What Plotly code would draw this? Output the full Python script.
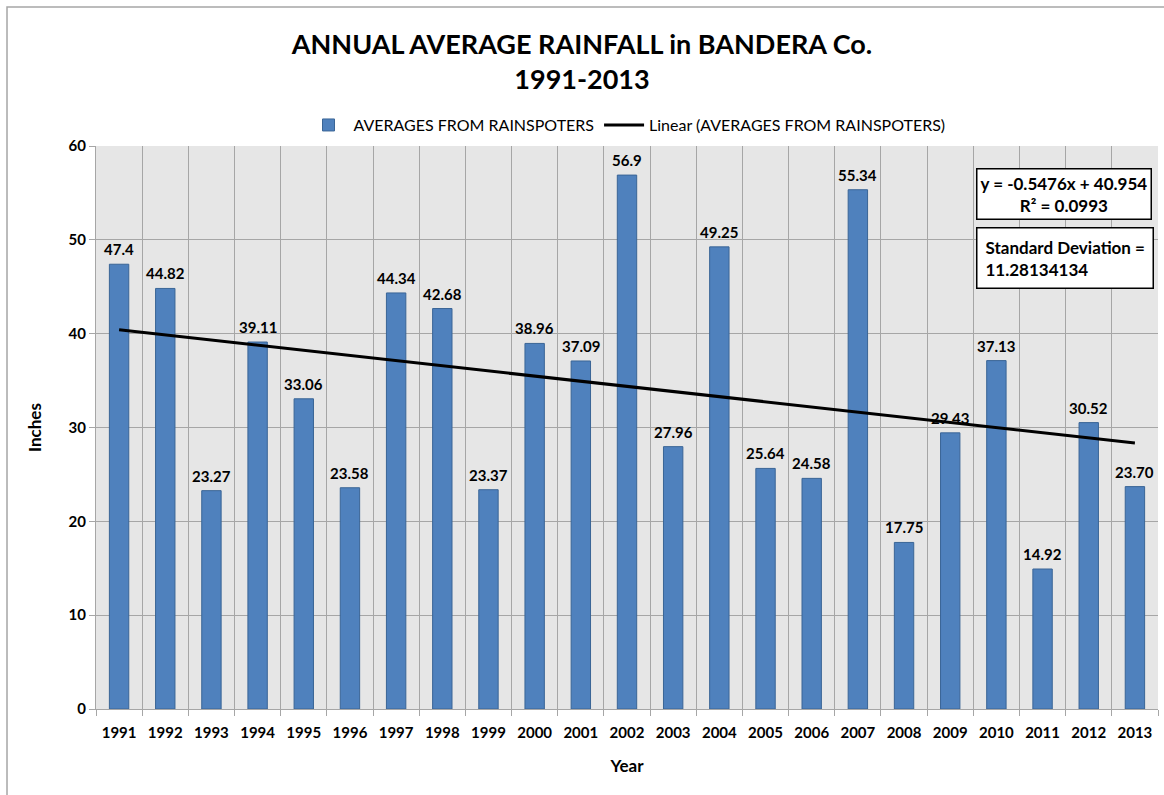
import numpy as np
import plotly.graph_objects as go

years = [str(y) for y in range(1991, 2014)]
rainfall = [47.4, 44.82, 23.27, 39.11, 33.06, 23.58, 44.34, 42.68, 23.37, 38.96, 37.09, 56.9,
            27.96, 49.25, 25.64, 24.58, 55.34, 17.75, 29.43, 37.13, 14.92, 30.52, 23.70]
labels = ["47.4", "44.82", "23.27", "39.11", "33.06", "23.58", "44.34", "42.68", "23.37", "38.96",
          "37.09", "56.9", "27.96", "49.25", "25.64", "24.58", "55.34", "17.75", "29.43", "37.13",
          "14.92", "30.52", "23.70"]
y_ticks = [0, 10, 20, 30, 40, 50, 60]

idx = np.arange(1, len(rainfall) + 1)
slope, intercept = np.polyfit(idx, rainfall, 1)
trend = slope * idx + intercept

FONT = "Lato"

fig = go.Figure()
fig.add_trace(go.Bar(
    x=years, y=rainfall, name="AVERAGES FROM RAINSPOTERS",
    marker=dict(color="#4f81bd", line=dict(color="#3a6596", width=1)),
    width=0.42,
))
fig.add_trace(go.Scatter(
    x=years, y=trend, mode="lines", name="Linear (AVERAGES FROM RAINSPOTERS)",
    line=dict(color="#000000", width=3),
))
for i, (val, lab) in enumerate(zip(rainfall, labels)):
    fig.add_annotation(
        x=i, y=val, text=f"<b>{lab}</b>", showarrow=False, xanchor="center", yanchor="bottom",
        yshift=4, font=dict(family=FONT, size=15, color="#000000"),
    )

fig.update_layout(
    width=1164, height=795,
    margin=dict(l=96, r=6, t=146, b=86),
    paper_bgcolor="#ffffff", plot_bgcolor="#e6e6e6",
    font=dict(family=FONT, size=14, color="#000000"),
    title=dict(text="<b>ANNUAL AVERAGE RAINFALL in BANDERA Co.<br>1991-2013</b>",
               x=0.5, xanchor="center", y=0.932, yanchor="top",
               font=dict(family=FONT, size=27, color="#000000")),
    legend=dict(orientation="h", x=0.5, xanchor="center", y=1.007, yanchor="bottom",
                font=dict(family=FONT, size=16), bgcolor="rgba(0,0,0,0)",
                traceorder="normal", itemwidth=40),
    bargap=0.58,
    showlegend=True,
)
fig.update_xaxes(
    type="category", range=[-0.5, len(years) - 0.5],
    tickson="boundaries", showgrid=True, gridcolor="#a6a6a6", gridwidth=1,
    ticks="outside", ticklen=6, tickcolor="#a6a6a6", ticklabelstandoff=10,
    showline=True, linecolor="#a6a6a6",
    tickfont=dict(family=FONT, size=15, weight="bold"),
    title=dict(text="<b>Year</b>", font=dict(family=FONT, size=17), standoff=20),
)
fig.update_yaxes(
    range=[0, 60], tickvals=y_ticks, showgrid=True, gridcolor="#a6a6a6", gridwidth=1,
    ticks="outside", ticklen=6, tickcolor="#a6a6a6",
    showline=True, linecolor="#a6a6a6", zeroline=False,
    tickfont=dict(family=FONT, size=15, weight="bold"),
    title=dict(text="<b>Inches</b>", font=dict(family=FONT, size=17), standoff=22),
)

fig.add_annotation(
    xref="paper", yref="paper", x=0.9944, y=0.9609, xanchor="right", yanchor="top",
    text=f"<b>y = {slope:.4f}x + {intercept:.3f}<br>R² = 0.0993</b>".replace("+ -", "- "),
    showarrow=False, align="center", bgcolor="#ffffff", bordercolor="#000000", borderwidth=1.5,
    borderpad=3, font=dict(family=FONT, size=17, color="#000000"),
)
fig.add_annotation(
    xref="paper", yref="paper", x=0.9963, y=0.8561, xanchor="right", yanchor="top",
    text="<b>Standard Deviation =<br>11.28134134</b>",
    showarrow=False, align="left", bgcolor="#ffffff", bordercolor="#000000", borderwidth=1.5,
    borderpad=8, font=dict(family=FONT, size=17, color="#000000"),
)
# outer chart border
fig.add_shape(type="rect", xref="paper", yref="paper", x0=-0.0838, x1=1.02, y0=-0.25, y1=1.2469,
              line=dict(color="#a6a6a6", width=1.5), layer="below")

fig.write_html("out.html", config={"displayModeBar": False},
               post_script="document.body.style.margin='0';")
